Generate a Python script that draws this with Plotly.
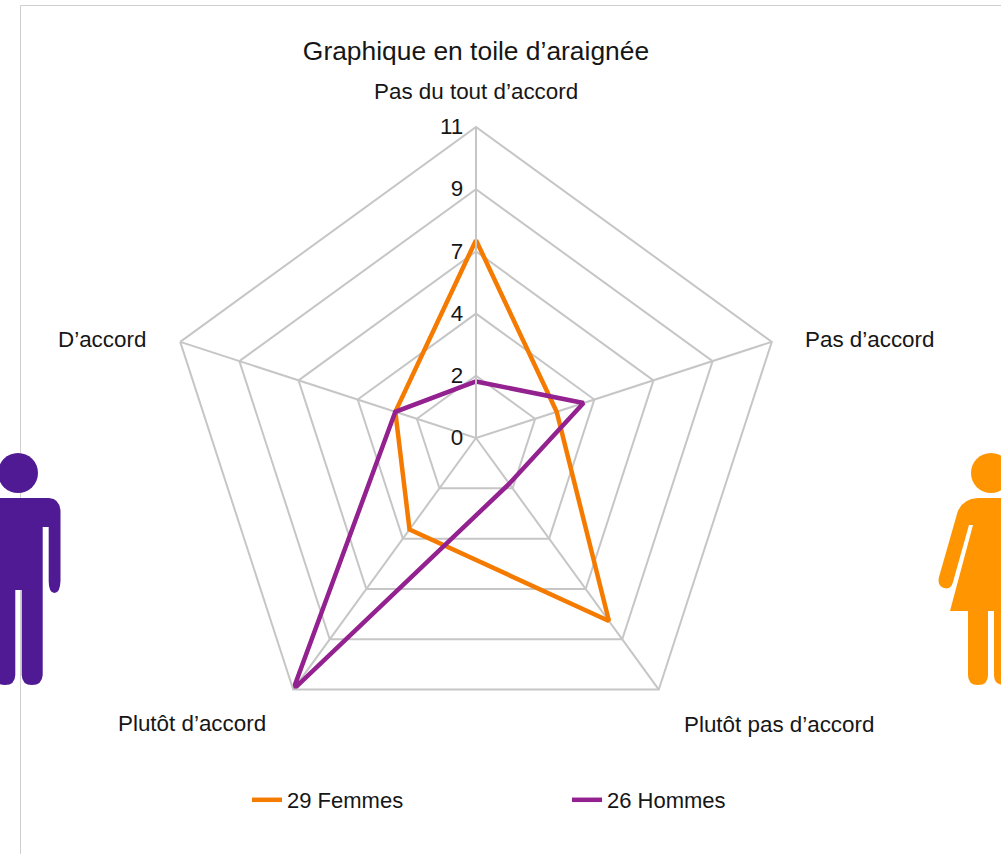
import plotly.graph_objects as go

categories = ["Pas du tout d’accord", "Pas d’accord", "Plutôt pas d’accord", "Plutôt d’accord", "D’accord"]
femmes = [7, 3, 8, 4, 3]
hommes = [2, 4, 2, 11, 3]
radial_ticks = [0, 2.2, 4.4, 6.6, 8.8, 11]
radial_labels = ["0", "2", "4", "7", "9", "11"]
label_x = [476, 869, 779, 192, 102]
label_y = [91, 339, 724, 723, 339]
W, H = 1001, 854
GRID = "#c6c6c6"
FONT = "Liberation Sans, Arial, sans-serif"
INK = "#161616"

def X(p):
    return p / W

def Y(p):
    return 1 - p / H

def path(cmds):
    s = []
    for c in cmds:
        if isinstance(c, str):
            s.append(c)
        else:
            s.append(f"{X(c[0]):.5f},{Y(c[1]):.5f} ")
    return "".join(s)

def circle(cx, cy, r, color):
    return dict(type="circle", xref="paper", yref="paper", x0=X(cx - r), x1=X(cx + r),
                y0=Y(cy + r), y1=Y(cy - r), fillcolor=color, line=dict(width=0), layer="above")

MAN = "#4f1a93"
WOMAN = "#ff9500"
man = ["M", (-30, 498), "L", (49, 498), "Q", (60, 499), (60.5, 511), "L", (60.5, 581),
       "Q", (60, 593), (54.5, 593), "Q", (48.7, 593), (48.7, 581), "L", (48.7, 527), "L", (42.7, 527),
       "L", (42.7, 675), "Q", (42, 685), (32, 685), "Q", (22, 685), (21.7, 675), "L", (21.7, 590),
       "L", (15.3, 590), "L", (15.3, 675), "Q", (15, 685), (5, 685), "Q", (-5, 685), (-6, 675),
       "L", (-30, 500), "Z"]
woman = ["M", (1030, 498), "L", (978, 498), "Q", (961, 499), (957, 514), "L", (939, 577),
         "Q", (937, 586), (944, 588), "Q", (951, 590), (953, 582), "L", (969, 525), "L", (973, 525),
         "L", (950, 611), "L", (968, 611), "L", (968, 675), "Q", (968, 685), (978, 685),
         "Q", (988, 685), (988, 675), "L", (988, 611), "L", (994, 611), "L", (994, 675),
         "Q", (994, 685), (1004, 685), "L", (1030, 685), "Z"]

shapes = [
    dict(type="line", xref="paper", yref="paper", x0=X(20.5), x1=X(20.5), y0=0, y1=Y(5.5),
         line=dict(color="#cfcfcf", width=1), layer="below"),
    dict(type="line", xref="paper", yref="paper", x0=X(20.5), x1=1, y0=Y(5.5), y1=Y(5.5),
         line=dict(color="#cfcfcf", width=1), layer="below"),
    circle(18, 473, 20, MAN),
    dict(type="path", xref="paper", yref="paper", path=path(man), fillcolor=MAN, line=dict(width=0), layer="above"),
    circle(991, 473, 20, WOMAN),
    dict(type="path", xref="paper", yref="paper", path=path(woman), fillcolor=WOMAN, line=dict(width=0), layer="above"),
]

annotations = [
    dict(text=t, xref="paper", yref="paper", x=X(x), y=Y(y), xanchor="center", yanchor="middle",
         showarrow=False, font=dict(family=FONT, size=22.4, color=INK))
    for t, x, y in zip(categories, label_x, label_y)
]

fig = go.Figure()
fig.add_trace(go.Scatterpolar(r=femmes + femmes[:1], theta=categories + categories[:1], mode="lines",
                              name="29 Femmes", line=dict(color="#f57a00", width=4.5)))
fig.add_trace(go.Scatterpolar(r=hommes + hommes[:1], theta=categories + categories[:1], mode="lines",
                              name="26 Hommes", line=dict(color="#93218f", width=4.5)))
fig.update_layout(
    width=W, height=H, margin=dict(l=0, r=0, t=0, b=0), autosize=False,
    paper_bgcolor="white", plot_bgcolor="white",
    font=dict(family=FONT, size=22, color=INK),
    title=dict(text="Graphique en toile d’araignée", x=X(476), y=Y(51), xanchor="center", yanchor="middle",
               font=dict(family=FONT, size=26.4, color=INK)),
    polar=dict(
        domain=dict(x=[X(165), X(787)], y=[Y(749), Y(127)]),
        bgcolor="white",
        gridshape="linear",
        radialaxis=dict(range=[0, 11], angle=90, tickangle=90, side="counterclockwise",
                        tickmode="array", tickvals=radial_ticks,
                        ticktext=radial_labels, showgrid=True, gridcolor=GRID, gridwidth=2,
                        showline=True, linecolor=GRID, linewidth=2,
                        ticks="outside", ticklen=4, tickcolor="rgba(0,0,0,0)",
                        tickfont=dict(family=FONT, size=22.4, color=INK)),
        angularaxis=dict(direction="clockwise", rotation=90, type="category",
                         categoryorder="array", categoryarray=categories,
                         showgrid=True, gridcolor=GRID, gridwidth=2,
                         showline=True, linecolor=GRID, linewidth=2,
                         ticks="", showticklabels=False),
    ),
    legend=dict(orientation="h", x=X(247), xanchor="left", y=Y(800), yanchor="middle",
                entrywidth=275, entrywidthmode="pixels", itemwidth=30, bgcolor="rgba(0,0,0,0)",
                font=dict(family=FONT, size=22, color=INK)),
    shapes=shapes,
    annotations=annotations,
)
fig.write_html("out.html", config=dict(displayModeBar=False),
               post_script="document.body.style.margin='0';document.body.style.overflow='hidden';")
